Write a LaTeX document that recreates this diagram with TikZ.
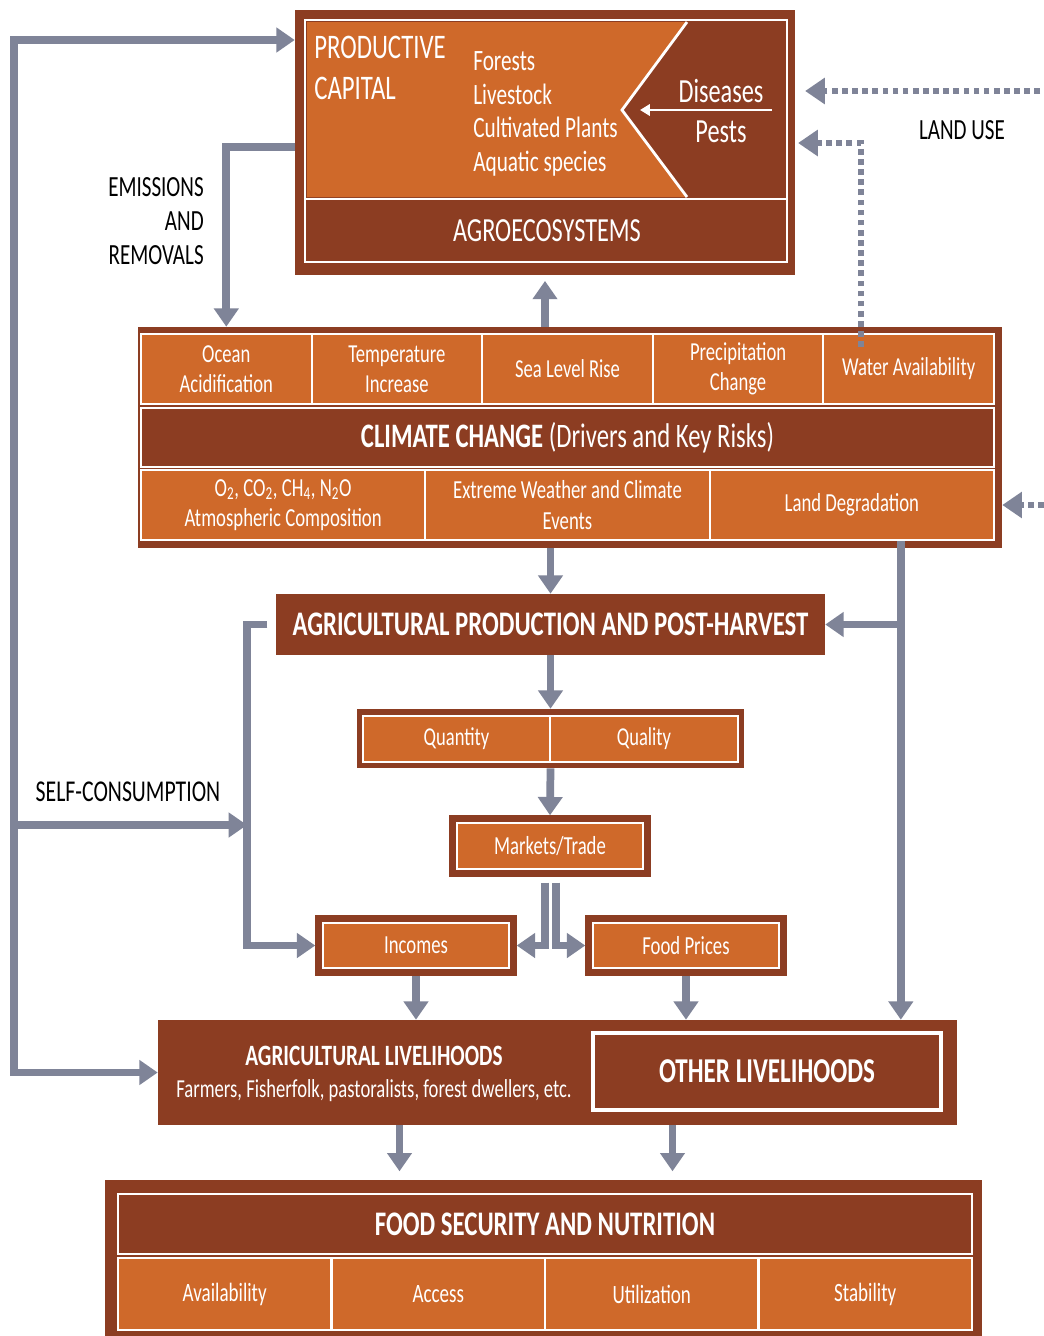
\documentclass[tikz,border=0pt]{standalone}
\usepackage{fontspec}
\setmainfont{Carlito}[FakeStretch=0.72]
\usetikzlibrary{arrows.meta,calc}
\definecolor{org}{RGB}{207,105,42}
\definecolor{brn}{RGB}{140,61,34}
\definecolor{flowgray}{RGB}{127,132,152}
\newcommand{\fsz}[2]{\fontsize{#1}{#2}\selectfont}

\begin{document}
\begin{tikzpicture}[
    x=0.025cm, y=-0.025cm,
    >={Triangle[width=17pt,length=13pt]},
    sz/.style 2 args={minimum width=#1*0.025cm, minimum height=#2*0.025cm},
    dark/.style={rectangle, fill=brn, inner sep=0pt, text=white},
    cell/.style={rectangle, fill=org, draw=white, line width=1.5pt, text=white, inner sep=0pt, align=center},
    band/.style={rectangle, fill=brn, draw=white, line width=2pt, text=white, inner sep=0pt, align=center},
    framed/.style={rectangle, fill=org, draw=white, line width=2pt, preaction={draw=brn, line width=11pt},
      outer sep=5.5pt, text=white, inner sep=0pt, font=\fsz{18.5}{22}},
    flow/.style={draw=flowgray, line width=5.5pt, ->},
    landuse/.style={draw=flowgray, line width=4pt, dash pattern=on 4pt off 3.2pt,
      -{Triangle[width=18pt,length=14pt]}},
    lbl/.style={text=black, inner sep=0pt, font=\fsz{20.8}{24}}
  ]
  \useasboundingbox (0,0) rectangle (1044,1336);
  \fill[white] (0,0) rectangle (1044,1336);

  % productive capital
  \node[dark, sz={500}{265}] (prodcap) at (545,142.5) {};
  \fill[org] (307,22) -- (687,22) -- (622,110) -- (687,197) -- (307,197) -- cycle;
  \draw[white, line width=2pt] (687,22) -- (622,110) -- (687,197);
  \draw[white, line width=2pt] (305,20) rectangle (787,262);
  \draw[white, line width=2pt] (305,199) -- (787,199);
  \node[anchor=west, align=left, text=white, inner sep=0pt, font=\fsz{24.5}{29}] (pctitle) at (314,68) {PRODUCTIVE\\CAPITAL};
  \node[anchor=west, align=left, text=white, inner sep=0pt, font=\fsz{21}{24}] (stock) at (473,114)
    {Forests\\Livestock\\Cultivated Plants\\Aquatic species};
  \node[align=center, text=white, inner sep=0pt, font=\fsz{24}{28.5}] (pests) at (721,111) {Diseases\\Pests};
  \draw[white, line width=2pt, -{Triangle[width=8pt,length=7pt]}] (772,110) -- (640,110);
  \node[text=white, font=\fsz{24}{28}] (agroeco) at (547,231) {AGROECOSYSTEMS};

  % climate change
  \node[dark, sz={864}{221}] (climate) at (570,437.5) {};
  \foreach \t [count=\i] in {{Ocean\\Acidification},{Temperature\\Increase},{Sea Level Rise},
      {Precipitation\\Change},{Water Availability}}
    \node[cell, sz={170.6}{70}, font=\fsz{18.4}{21.5}] (cc\i) at (141+170.6*\i-85.3,369) {\t};
  \node[band, sz={853}{59}, font=\fsz{24.4}{28}] (ccband) at (567.5,437.5)
    {\textbf{CLIMATE CHANGE} (Drivers and Key Risks)};
  \foreach \t [count=\i] in {{O\textsubscript{2}, CO\textsubscript{2}, CH\textsubscript{4}, N\textsubscript{2}O\\Atmospheric Composition},
      {Extreme Weather and Climate\\Events},{Land Degradation}}
    \node[cell, sz={284.33}{70}, font=\fsz{18.5}{21.5}] (ccb\i) at (141+284.33*\i-142.17,505) {\t};

  % production chain
  \node[dark, sz={549}{61}, font=\bfseries\fsz{24.5}{28}] (agprod) at (550.5,624.5)
    {AGRICULTURAL PRODUCTION AND POST-HARVEST};
  \node[dark, sz={387}{59}] (qq) at (550.5,738.5) {};
  \node[cell, sz={187}{46}, line width=2pt, font=\fsz{18.3}{22}] (qty) at (456.5,739) {Quantity};
  \node[cell, sz={188}{46}, line width=2pt, font=\fsz{18.3}{22}] (qly) at (644,739) {Quality};
  \node[framed, sz={186}{46}] (markets) at (550,846) {Markets/Trade};
  \node[framed, sz={186}{45}] (incomes) at (416,945.5) {Incomes};
  \node[framed, sz={186}{45}] (prices) at (686,945.5) {Food Prices};

  % livelihoods
  \node[dark, sz={799}{105}] (liveli) at (557.5,1072.5) {};
  \node[band, sz={348}{77}, line width=2.5pt, font=\bfseries\fsz{24.8}{28}] (other) at (767,1071.5) {OTHER LIVELIHOODS};
  \node[align=center, text=white, inner sep=0pt, font=\fsz{18.4}{23}] (agliv) at (374,1074)
    {{\bfseries\fsz{21}{23}AGRICULTURAL LIVELIHOODS}\\Farmers, Fisherfolk, pastoralists, forest dwellers, etc.};

  % food security
  \node[dark, sz={877}{160}] (fsn) at (543.5,1260) {};
  \node[band, sz={854}{60}, font=\bfseries\fsz{24.5}{28}] (fsnband) at (545,1224) {FOOD SECURITY AND NUTRITION};
  \foreach \t [count=\i] in {Availability,Access,Utilization,Stability}
    \node[cell, sz={213.5}{72}, font=\fsz{18.8}{22}] (pillar\i) at (118+213.5*\i-106.75,1294) {\t};

  % labels
  \node[lbl, anchor=east, align=right] (emis) at (204,221) {EMISSIONS\\AND\\REMOVALS};
  \node[lbl] (landuse) at (962,130) {LAND USE};
  \node[lbl, font=\fsz{21.5}{24}] (selfcons) at (128,792) {SELF-CONSUMPTION};

  % connectors
  \coordinate (looptop) at (14,40);
  \coordinate (loopmid) at (14,825);
  \coordinate (brk) at (247,0);
  \draw[flow, <->] (prodcap.west |- looptop) -- (looptop) -- (looptop |- liveli.west) -- (liveli.west);
  \draw[flow] (loopmid) -- (brk |- loopmid);
  \draw[flow] ([xshift=-6pt]agprod.west) -- (brk |- agprod.west) -- (brk |- incomes.west) -- (incomes.west);
  \draw[flow] (prodcap.west |- 0,147) -| (cc1.north |- climate.north);
  \draw[flow, shorten >=4pt] (prodcap.south |- climate.north) -- (prodcap.south);

  \coordinate (lu1) at (1040,91);
  \coordinate (lu3) at (1044,505);
  \coordinate (wa) at ($(cc5.north)+(-48,14)$);
  \draw[landuse, shorten >=7pt] (lu1) -- (prodcap.east |- lu1);
  \draw[landuse, shorten >=2pt] (wa) |- (prodcap.east |- 0,143);
  \draw[landuse] (lu3) -- (climate.east |- lu3);

  \draw[flow] (agprod.north |- climate.south) -- (agprod.north);
  \coordinate (ld) at ($(ccb3.south)+(49,0)$);
  \draw[flow] (ld) -- (ld |- liveli.north);
  \draw[flow] (ld |- agprod.east) -- (agprod.east);
  \draw[flow] (agprod.south) -- (qq.north);
  \draw[flow] (qq.south) -- (markets.north);
  \draw[flow] ($(markets.south)+(-5,6)$) |- (incomes.east);
  \draw[flow] ($(markets.south)+(6,6)$) |- (prices.west);
  \draw[flow] (incomes.south) -- (incomes.south |- liveli.north);
  \draw[flow] (prices.south) -- (prices.south |- liveli.north);
  \coordinate (la) at ($(liveli.south)+(-158,0)$);
  \coordinate (lb) at ($(liveli.south)+(115,0)$);
  \draw[flow, shorten >=6pt] (la) -- (la |- fsn.north);
  \draw[flow, shorten >=6pt] (lb) -- (lb |- fsn.north);
\end{tikzpicture}
\end{document}
